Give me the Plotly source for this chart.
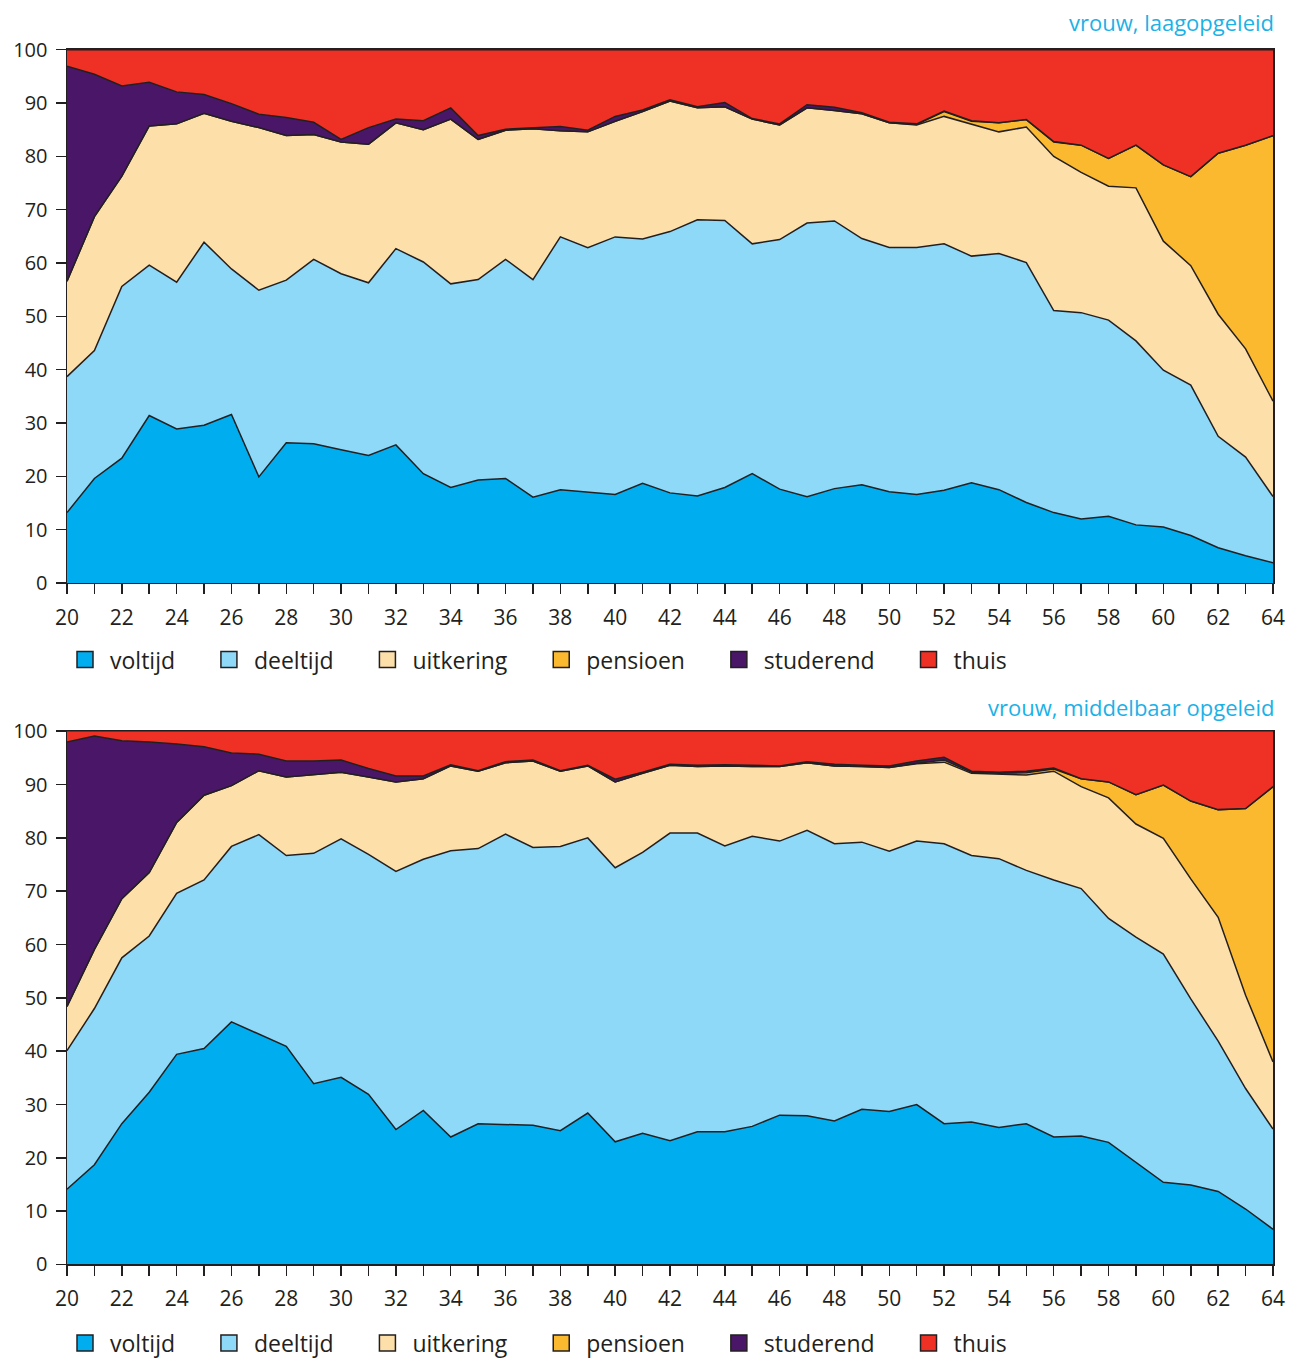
import plotly.graph_objects as go

ages = list(range(20, 65))
tick_labels = [str(a) if a % 2 == 0 else "" for a in ages]
y_ticks = list(range(0, 101, 10))

series_names = ["voltijd", "deeltijd", "uitkering", "pensioen", "studerend", "thuis"]
series_colors = ["#00AEEF", "#8ED8F8", "#FDDFAA", "#FBB92F", "#4A1768", "#EE3124"]

titles = ["vrouw, laagopgeleid", "vrouw, middelbaar opgeleid"]

# ---- vrouw, laagopgeleid (percent per age 20..64) ----
laag_voltijd = [13.2, 19.6, 23.4, 31.4, 28.9, 29.6, 31.6, 19.9, 26.3, 26.1, 25.0, 23.9, 25.9, 20.5, 17.9,
                19.3, 19.6, 16.1, 17.5, 17.0, 16.6, 18.7, 16.9, 16.3, 17.9, 20.5, 17.6, 16.2, 17.7, 18.4,
                17.1, 16.6, 17.4, 18.8, 17.5, 15.1, 13.2, 12.0, 12.5, 10.9, 10.5, 8.9, 6.6, 5.1, 3.8]
laag_deeltijd = [25.5, 24.0, 32.2, 28.2, 27.5, 34.3, 27.3, 35.0, 30.5, 34.6, 33.0, 32.4, 36.8, 39.7, 38.2,
                 37.6, 41.1, 40.8, 47.4, 45.9, 48.3, 45.8, 49.0, 51.8, 50.1, 43.1, 46.8, 51.3, 50.2, 46.2,
                 45.8, 46.3, 46.2, 42.5, 44.3, 45.0, 37.9, 38.7, 36.8, 34.5, 29.4, 28.2, 20.9, 18.5, 12.4]
laag_uitkering = [17.9, 25.1, 20.7, 26.1, 29.7, 24.2, 27.7, 30.5, 27.1, 23.4, 24.7, 26.0, 23.6, 24.8, 30.9,
                  26.3, 24.2, 28.3, 19.9, 21.7, 21.7, 23.9, 24.5, 21.0, 21.3, 23.4, 21.5, 21.6, 20.7, 23.4,
                  23.4, 23.0, 23.9, 24.8, 22.8, 25.4, 28.9, 26.3, 25.1, 28.7, 24.2, 22.4, 22.9, 20.3, 17.9]
laag_pensioen = [0, 0, 0, 0, 0, 0, 0, 0, 0, 0, 0, 0, 0, 0, 0,
                 0, 0, 0, 0, 0, 0, 0, 0, 0, 0, 0, 0, 0, 0, 0,
                 0, 0.1, 0.9, 0.5, 1.7, 1.4, 2.7, 5.1, 5.2, 8.0, 14.3, 16.7, 30.2, 38.2, 49.8]
laag_studerend = [40.3, 26.7, 16.9, 8.2, 6.0, 3.5, 3.3, 2.5, 3.4, 2.3, 0.5, 3.1, 0.7, 1.7, 2.1,
                  0.7, 0.2, 0.2, 0.8, 0.3, 0.9, 0.3, 0.2, 0.2, 0.8, 0.1, 0.2, 0.6, 0.6, 0.2,
                  0.1, 0.1, 0.1, 0.1, 0, 0, 0.1, 0, 0, 0, 0, 0, 0, 0, 0]
laag_thuis = [3.1, 4.6, 6.8, 6.1, 7.9, 8.4, 10.1, 12.1, 12.7, 13.6, 16.8, 14.6, 13.0, 13.3, 10.9,
              16.1, 14.9, 14.6, 14.4, 15.1, 12.5, 11.3, 9.4, 10.7, 9.9, 12.9, 13.9, 10.3, 10.8, 11.8,
              13.6, 13.9, 11.5, 13.3, 13.7, 13.1, 17.2, 17.9, 20.4, 17.9, 21.6, 23.8, 19.4, 17.9, 16.1]

# ---- vrouw, middelbaar opgeleid ----
midd_voltijd = [14.1, 18.7, 26.4, 32.3, 39.4, 40.5, 45.5, 43.2, 40.9, 33.9, 35.1, 31.9, 25.3, 28.9, 23.9,
                26.4, 26.2, 26.1, 25.1, 28.4, 23.0, 24.6, 23.2, 24.9, 24.9, 25.9, 28.0, 27.9, 26.9, 29.1,
                28.7, 30.0, 26.4, 26.7, 25.7, 26.4, 23.9, 24.1, 22.9, 19.1, 15.4, 14.9, 13.7, 10.4, 6.6]
midd_deeltijd = [26.0, 29.3, 31.1, 29.3, 30.2, 31.6, 32.9, 37.4, 35.8, 43.2, 44.7, 45.0, 48.4, 47.1, 53.7,
                 51.6, 54.5, 52.1, 53.3, 51.6, 51.4, 52.7, 57.7, 56.0, 53.6, 54.4, 51.4, 53.5, 52.0, 50.1,
                 48.8, 49.4, 52.5, 50.0, 50.4, 47.5, 48.2, 46.4, 42.0, 42.3, 42.8, 34.9, 28.2, 22.6, 18.8]
midd_uitkering = [8.3, 11.1, 11.1, 11.9, 13.3, 15.9, 11.4, 12.0, 14.7, 14.8, 12.5, 14.5, 16.8, 15.1, 15.9,
                  14.5, 13.4, 16.2, 14.1, 13.5, 16.1, 14.8, 12.7, 12.5, 15.0, 13.1, 14.0, 12.7, 14.6, 14.2,
                  15.7, 14.5, 15.3, 15.4, 15.8, 17.9, 20.4, 19.1, 22.6, 21.2, 21.7, 22.5, 23.2, 17.5, 12.6]
midd_pensioen = [0, 0, 0, 0, 0, 0, 0, 0, 0, 0, 0, 0, 0, 0, 0,
                 0, 0, 0, 0, 0, 0, 0, 0, 0, 0, 0, 0, 0, 0, 0,
                 0, 0.1, 0.4, 0.2, 0.2, 0.4, 0.4, 1.5, 3.0, 5.5, 10.0, 14.6, 20.2, 35.0, 51.6]
midd_studerend = [49.6, 40.0, 29.6, 24.5, 14.7, 9.1, 6.1, 3.1, 3.0, 2.5, 2.3, 1.6, 1.1, 0.5, 0.2,
                  0.1, 0.2, 0.2, 0.1, 0.1, 0.5, 0.2, 0.2, 0.2, 0.2, 0.2, 0.1, 0.2, 0.3, 0.2,
                  0.3, 0.4, 0.5, 0.2, 0.2, 0.3, 0.2, 0, 0, 0, 0, 0, 0, 0, 0]
midd_thuis = [2.0, 0.9, 1.8, 2.0, 2.4, 2.9, 4.1, 4.3, 5.6, 5.6, 5.4, 7.0, 8.4, 8.4, 6.3,
              7.4, 5.7, 5.4, 7.4, 6.4, 9.0, 7.7, 6.2, 6.4, 6.3, 6.4, 6.5, 5.7, 6.2, 6.4,
              6.5, 5.6, 4.9, 7.5, 7.7, 7.5, 6.9, 8.9, 9.5, 11.9, 10.1, 13.1, 14.7, 14.5, 10.4]

panels = [
    [laag_voltijd, laag_deeltijd, laag_uitkering, laag_pensioen, laag_studerend, laag_thuis],
    [midd_voltijd, midd_deeltijd, midd_uitkering, midd_pensioen, midd_studerend, midd_thuis],
]

W, H = 1302, 1365
INK = "#231F20"
FONT = "Open Sans, Noto Sans, DejaVu Sans, sans-serif"


def px_x(p):
    return p / W


def px_y(p):
    return 1 - p / H


fig = go.Figure()
axis_ids = [("x", "y", "legend"), ("x2", "y2", "legend2")]
for k, (series, (xa, ya, lg)) in enumerate(zip(panels, axis_ids)):
    for name, color, vals in zip(series_names, series_colors, series):
        fig.add_trace(go.Scatter(
            x=ages, y=vals, xaxis=xa, yaxis=ya, stackgroup=f"g{k}", mode="lines",
            line=dict(color=INK, width=1.5), fillcolor=color, name=name,
            showlegend=False, hoverinfo="x+y+name"))
    for name, color in zip(series_names, series_colors):
        fig.add_trace(go.Scatter(
            x=[None], y=[None], xaxis=xa, yaxis=ya, mode="markers", name=name + "\u00a0" * 4,
            marker=dict(symbol="square", size=16, color=color, line=dict(color=INK, width=1.5)),
            legend=lg, showlegend=True))

plot_px = [(50, 586), (735, 1271)]
title_px = [22, 711]
legend_px = [663, 1350]

axis_common = dict(showline=True, linecolor=INK, linewidth=1.5, mirror=True, ticks="outside",
                   ticklen=10, tickwidth=1.5, tickcolor=INK, showgrid=False, zeroline=False,
                   automargin=False, tickfont=dict(family=FONT, size=21, color=INK))

layout = dict(width=W, height=H, margin=dict(l=0, r=0, t=0, b=0), hovermode=False,
              plot_bgcolor="white", paper_bgcolor="white", annotations=[])
for k, (top, bot) in enumerate(plot_px):
    sfx = "" if k == 0 else str(k + 1)
    layout["xaxis" + sfx] = dict(
        axis_common, domain=[px_x(67), px_x(1273)], range=[20, 64], anchor="y" + sfx,
        tickmode="array", tickvals=ages, ticktext=tick_labels, ticklabelstandoff=5)
    layout["yaxis" + sfx] = dict(
        axis_common, domain=[px_y(bot), px_y(top)], range=[0, 100], anchor="x" + sfx,
        tickmode="array", tickvals=y_ticks, ticklabelstandoff=4,
        tickfont=dict(family=FONT, size=20, color=INK))
    layout["legend" + ("" if k == 0 else str(k + 1))] = dict(
        orientation="h", x=px_x(60), xanchor="left", y=px_y(legend_px[k]), yanchor="middle",
        font=dict(family=FONT, size=23, color=INK), itemwidth=40, bgcolor="rgba(0,0,0,0)",
        borderwidth=0, traceorder="normal")
    layout["annotations"].append(dict(
        text=titles[k], xref="paper", yref="paper", x=px_x(1276), y=px_y(title_px[k]),
        xanchor="right", yanchor="middle", showarrow=False,
        font=dict(family=FONT, size=22, color="#1BB1E7")))

fig.update_layout(**layout)
# remove the default 8px page margin so the figure fills the 1302x1365 window exactly
fig.write_html("out.html", config={"displayModeBar": False, "staticPlot": True},
               post_script="document.body.style.margin='0';document.body.style.overflow='hidden';")
